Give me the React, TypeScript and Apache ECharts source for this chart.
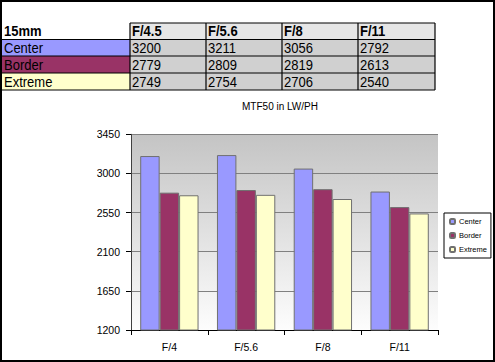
import React, { useEffect, useRef } from "react";
import * as echarts from "echarts";

// ---- data ----
const lensLabel = "15mm";
const tableApertures = ["F/4.5", "F/5.6", "F/8", "F/11"];
const chartCategories = ["F/4", "F/5.6", "F/8", "F/11"];
const seriesNames = ["Center", "Border", "Extreme"];
const centerValues = [3200, 3211, 3056, 2792];
const borderValues = [2779, 2809, 2819, 2613];
const extremeValues = [2749, 2754, 2706, 2540];
const seriesColors = ["#9999ff", "#993366", "#ffffcc"];
const chartTitle = "MTF50 in LW/PH";
const yMin = 1200;
const yMax = 3450;
const yInterval = 450;

const seriesValues = [centerValues, borderValues, extremeValues];

const FONT = "'Liberation Sans', Arial, sans-serif";

function buildTable(): any[] {
  const colX = [2, 130, 206, 282, 358, 435];
  const rowY = [23, 39.5, 56, 73, 90];
  const els: any[] = [];
  const fs = 13;
  const txt = (x: number, y: number, text: string, bold: boolean) => ({
    type: "text",
    x,
    y,
    scaleY: 1.1,
    style: { x: 0, y: 0, text, font: `${bold ? "bold " : ""}${fs}px ${FONT}`, fill: "#000", verticalAlign: "middle" },
  });
  // header row
  els.push(txt(4, (rowY[0] + rowY[1]) / 2 + 0.5, lensLabel, true));
  tableApertures.forEach((a, c) => {
    els.push({
      type: "rect",
      shape: { x: colX[c + 1], y: rowY[0], width: colX[c + 2] - colX[c + 1], height: rowY[1] - rowY[0] },
      style: { fill: "#e6e6e6", stroke: "none" },
    });
    els.push(txt(colX[c + 1] + 2, (rowY[0] + rowY[1]) / 2 + 0.5, a, true));
  });
  seriesNames.forEach((name, r) => {
    const y0 = rowY[r + 1];
    const y1 = rowY[r + 2];
    els.push({
      type: "rect",
      shape: { x: colX[0], y: y0, width: colX[1] - colX[0], height: y1 - y0 },
      style: { fill: seriesColors[r], stroke: "none" },
    });
    els.push(txt(colX[0] + 2, (y0 + y1) / 2 + 0.5, name, false));
    seriesValues[r].forEach((v, c) => {
      els.push({
        type: "rect",
        shape: { x: colX[c + 1], y: y0, width: colX[c + 2] - colX[c + 1], height: y1 - y0 },
        style: { fill: "#d0d0d0", stroke: "none" },
      });
      els.push(txt(colX[c + 1] + 2, (y0 + y1) / 2 + 0.5, String(v), false));
    });
  });
  // grid lines
  const line = (x1: number, y1: number, x2: number, y2: number) => ({
    type: "line",
    shape: { x1, y1, x2, y2 },
    style: { stroke: "#000", lineWidth: 1.2 },
  });
  els.push(line(colX[1], rowY[0], colX[5], rowY[0]));
  for (let r = 1; r < rowY.length; r++) els.push(line(colX[0], rowY[r], colX[5], rowY[r]));
  for (let c = 1; c < colX.length; c++) els.push(line(colX[c], rowY[0], colX[c], rowY[4]));
  return els;
}

export default function App() {
  const ref = useRef<HTMLDivElement>(null);
  useEffect(() => {
    if (!ref.current) return;
    const chart = echarts.init(ref.current, null, { renderer: "svg" });
    const option: any = {
      animation: false,
      backgroundColor: "#ffffff",
      textStyle: { fontFamily: FONT },
      title: {
        text: chartTitle,
        left: 280,
        top: 101,
        textAlign: "center",
        textStyle: { fontSize: 10, fontWeight: "normal", color: "#000", fontFamily: FONT },
        padding: 0,
      },
      legend: {
        data: seriesNames,
        orient: "vertical",
        left: 444,
        top: 213,
        itemWidth: 5,
        itemHeight: 5,
        itemGap: 5,
        padding: [4, 4, 4, 5],
        borderColor: "#000",
        borderWidth: 1,
        backgroundColor: "#fff",
        textStyle: { fontSize: 7.5, lineHeight: 9, color: "#000", fontFamily: FONT, padding: [0, 0, 0, -1] },
      },
      grid: {
        left: 131,
        top: 134.3,
        right: 57,
        bottom: 32,
        show: true,
        borderWidth: 0,
        backgroundColor: {
          type: "linear",
          x: 0,
          y: 0,
          x2: 0,
          y2: 1,
          colorStops: [
            { offset: 0, color: "#c4c4c4" },
            { offset: 1, color: "#fdfdfd" },
          ],
        },
      },
      xAxis: {
        type: "category",
        data: chartCategories,
        axisLine: { lineStyle: { color: "#000", width: 1 } },
        axisTick: { show: true, length: 5, lineStyle: { color: "#000" } },
        axisLabel: { fontSize: 10.5, color: "#000", margin: 11, fontFamily: FONT },
        splitLine: { show: false },
      },
      yAxis: {
        type: "value",
        min: yMin,
        max: yMax,
        interval: yInterval,
        axisLine: { show: true, lineStyle: { color: "#404040", width: 1 } },
        axisTick: { show: true, length: 5, lineStyle: { color: "#000" } },
        axisLabel: {
          fontSize: 10.5,
          color: "#000",
          margin: 11,
          fontFamily: FONT,
          formatter: (v: number) => String(v),
        },
        splitLine: { show: true, lineStyle: { color: "#808080", width: 1 } },
      },
      series: seriesNames.map((name, i) => ({
        name,
        type: "bar",
        data: seriesValues[i],
        barGap: "0%",
        barCategoryGap: "24%",
        itemStyle: { color: seriesColors[i], borderColor: "#707070", borderWidth: 1 },
      })),
      graphic: [
        ...buildTable(),
        {
          type: "rect",
          shape: { x: 1, y: 1, width: 493, height: 360 },
          style: { fill: "none", stroke: "#000", lineWidth: 2 },
          z: 100,
        },
      ],
    };
    chart.setOption(option);
    return () => chart.dispose();
  }, []);
  return (
    <div
      ref={ref}
      style={{ position: "absolute", left: 0, top: 0, width: 495, height: 362, background: "#fff" }}
    />
  );
}
